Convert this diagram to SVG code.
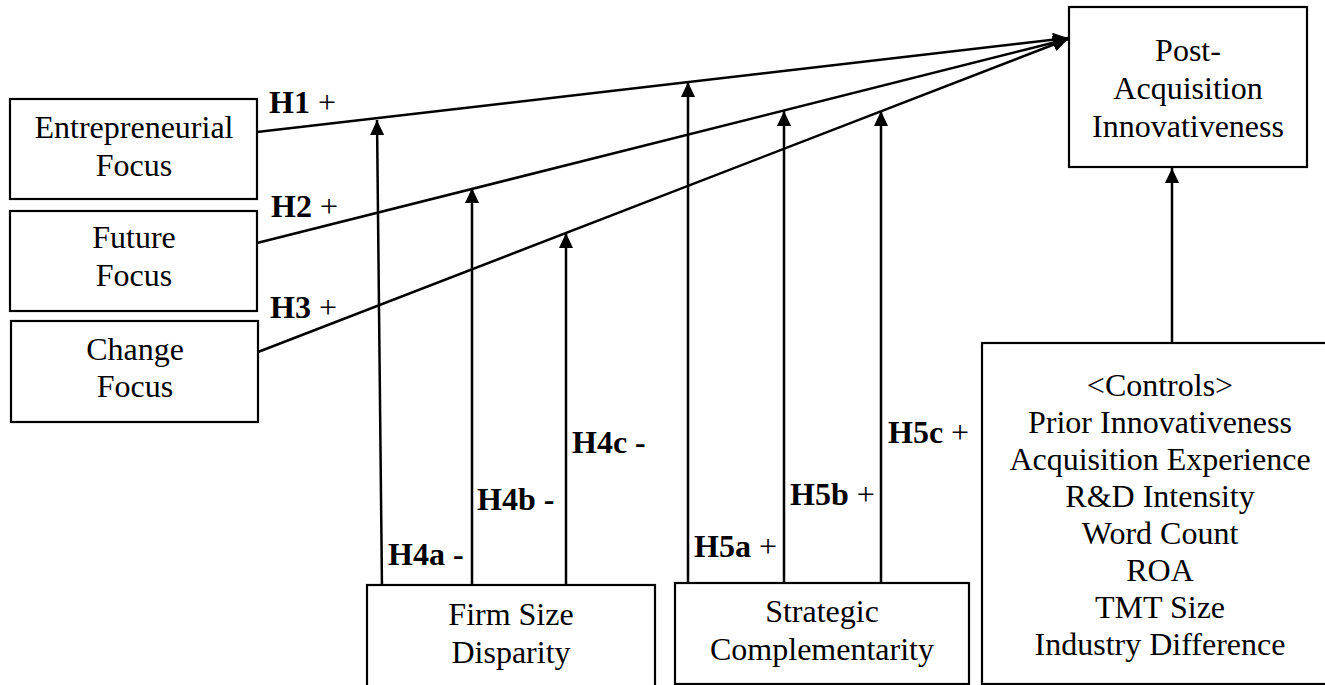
<svg xmlns="http://www.w3.org/2000/svg" width="1325" height="685" viewBox="0 0 1325 685">
<style>
.box{fill:#fff;stroke:#000;stroke-width:2.2}
.t{font-family:"Liberation Serif","Times New Roman",serif;font-size:32px;fill:#000;text-anchor:middle}
.h{font-family:"Liberation Serif","Times New Roman",serif;font-size:32px;fill:#000}
.b{font-weight:bold}
.c{stroke:#000;stroke-width:2.5;fill:none;marker-end:url(#ah)}
</style>
<defs>
<marker id="ah" markerUnits="userSpaceOnUse" markerWidth="16" markerHeight="15" refX="15" refY="7" orient="auto">
<path d="M0,0 L15,7 L0,14 z" fill="#000"/>
</marker>
</defs>
<rect width="1325" height="685" fill="#fff"/>
<g id="connectors">
<line class="c" x1="257" y1="132" x2="1068" y2="38"/>
<line class="c" x1="257" y1="243" x2="1068" y2="39"/>
<line class="c" x1="258" y1="352" x2="1068" y2="39"/>
<line class="c" x1="382" y1="589" x2="377" y2="120"/>
<line class="c" x1="472" y1="584" x2="472" y2="188"/>
<line class="c" x1="566" y1="584" x2="566" y2="233"/>
<line class="c" x1="688" y1="584" x2="688" y2="82"/>
<line class="c" x1="784" y1="584" x2="784" y2="111"/>
<line class="c" x1="881" y1="584" x2="881" y2="111"/>
<line class="c" x1="1172" y1="343" x2="1172" y2="168"/>
</g>
<g id="labels">
<text class="h" x="269" y="113"><tspan class="b">H1</tspan> +</text>
<text class="h" x="271" y="217"><tspan class="b">H2</tspan> +</text>
<text class="h" x="270" y="318"><tspan class="b">H3</tspan> +</text>
<text class="h b" x="388" y="565">H4a -</text>
<text class="h b" x="477" y="510">H4b -</text>
<text class="h b" x="572" y="453">H4c -</text>
<text class="h" x="694" y="557"><tspan class="b">H5a</tspan> +</text>
<text class="h" x="790" y="505"><tspan class="b">H5b</tspan> +</text>
<text class="h" x="888" y="443"><tspan class="b">H5c</tspan> +</text>
</g>
<g id="entrepreneurial">
<rect class="box" x="10" y="99" width="247" height="100"/>
<text class="t" x="134" y="138">Entrepreneurial</text>
<text class="t" x="134" y="176">Focus</text>
</g>
<g id="future">
<rect class="box" x="10" y="211" width="247" height="100"/>
<text class="t" x="134" y="248">Future</text>
<text class="t" x="134" y="286">Focus</text>
</g>
<g id="change">
<rect class="box" x="11" y="321" width="247" height="101"/>
<text class="t" x="135" y="360">Change</text>
<text class="t" x="135" y="397">Focus</text>
</g>
<g id="post">
<rect class="box" x="1069" y="7" width="238" height="160"/>
<text class="t" x="1188" y="61">Post-</text>
<text class="t" x="1188" y="99">Acquisition</text>
<text class="t" x="1188" y="137">Innovativeness</text>
</g>
<g id="firmsize">
<rect class="box" x="367" y="585" width="288" height="105"/>
<text class="t" x="511" y="625">Firm Size</text>
<text class="t" x="511" y="663">Disparity</text>
</g>
<g id="strategic">
<rect class="box" x="675" y="583" width="294" height="101"/>
<text class="t" x="822" y="622">Strategic</text>
<text class="t" x="822" y="660">Complementarity</text>
</g>
<g id="controls">
<rect class="box" x="982" y="343" width="360" height="341"/>
<text class="t" x="1160" y="396">&lt;Controls&gt;</text>
<text class="t" x="1160" y="433">Prior Innovativeness</text>
<text class="t" x="1160" y="470">Acquisition Experience</text>
<text class="t" x="1160" y="507">R&amp;D Intensity</text>
<text class="t" x="1160" y="544">Word Count</text>
<text class="t" x="1160" y="581">ROA</text>
<text class="t" x="1160" y="618">TMT Size</text>
<text class="t" x="1160" y="655">Industry Difference</text>
</g>
</svg>
